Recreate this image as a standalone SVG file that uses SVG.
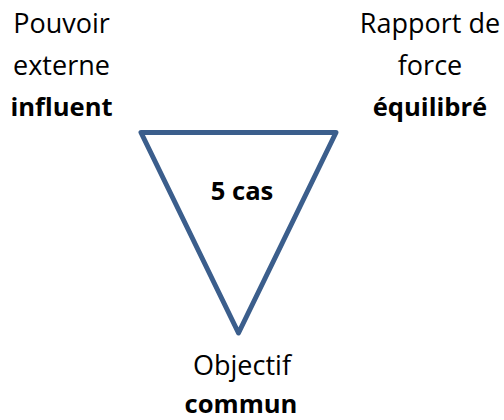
<svg xmlns="http://www.w3.org/2000/svg" width="504" height="420" viewBox="0 0 504 420">
  <style>
    .t { font-family: "Open Sans", "Liberation Sans", sans-serif; font-size: 27px; fill: #000; text-anchor: middle; }
    .b { font-weight: bold; font-size: 25.6px; }
    .tri { fill: #fff; stroke: #3B5E8C; stroke-width: 5; stroke-linejoin: round; }
  </style>
  <rect width="504" height="420" fill="#fff"/>
  <g id="triangle">
    <polygon class="tri" points="141,132.5 336,132.5 238.5,333"/>
    <text class="t b" x="242" y="200">5 cas</text>
  </g>
  <g id="left-label">
    <text class="t" x="61.5" y="33">Pouvoir</text>
    <text class="t" x="61.5" y="74.5">externe</text>
    <text class="t b" x="61.5" y="116">influent</text>
  </g>
  <g id="right-label">
    <text class="t" x="430" y="33">Rapport de</text>
    <text class="t" x="430" y="74.5">force</text>
    <text class="t b" x="430" y="116">équilibré</text>
  </g>
  <g id="bottom-label">
    <text class="t" x="242" y="375">Objectif</text>
    <text class="t b" x="241" y="413">commun</text>
  </g>
  <g id="connectors"></g>
</svg>
